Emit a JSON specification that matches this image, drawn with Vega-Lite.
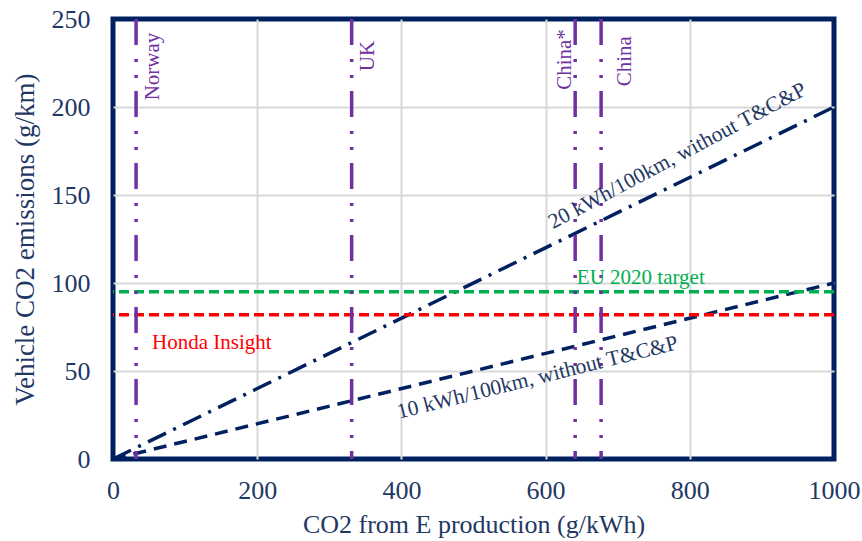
{
  "$schema": "https://vega.github.io/schema/vega-lite/v6.json",
  "width": 721,
  "height": 440,
  "autosize": "none",
  "padding": {"left": 113, "top": 19, "right": 28, "bottom": 82},
  "config": {
    "font": "Liberation Serif",
    "view": {"stroke": "#002060", "strokeWidth": 5, "strokeOpacity": 1},
    "axis": {
      "domain": false, "ticks": false, "grid": true, "gridColor": "#d9d9d9", "gridWidth": 2,
      "labelFont": "Liberation Serif", "labelFontSize": 26, "labelColor": "#1f3864",
      "titleFont": "Liberation Serif", "titleFontSize": 26, "titleFontWeight": "normal", "titleColor": "#1f3864",
      "labelFlush": false, "labelOverlap": false, "format": "d"
    },
    "axisX": {"labelPadding": 18, "titlePadding": 8},
    "axisY": {"labelPadding": 23, "titlePadding": 12, "titleFontSize": 27}
  },
  "datasets": {
    "lines": [
      {"series": "20 kWh/100km", "x": 0, "y": 0},
      {"series": "20 kWh/100km", "x": 1000, "y": 200}
    ],
    "lines10": [
      {"series": "10 kWh/100km", "x": 0, "y": 0},
      {"series": "10 kWh/100km", "x": 1000, "y": 100}
    ],
    "countries": [
      {"label": "Norway", "x": 32, "lx": 56, "ly": 223},
      {"label": "UK", "x": 331, "lx": 354, "ly": 229},
      {"label": "China*", "x": 641, "lx": 627, "ly": 227},
      {"label": "China", "x": 677, "lx": 710, "ly": 226}
    ],
    "eu": [{"label": "EU 2020 target", "y": 95, "lx": 732, "ly": 103}],
    "honda": [{"label": "Honda Insight", "y": 82, "lx": 137, "ly": 66}],
    "lineLabels": [
      {"label": "20 kWh/100km, without T&C&P", "lx": 783, "ly": 172, "angle": 332},
      {"label": "10 kWh/100km, without T&C&P", "lx": 589, "ly": 46, "angle": 346}
    ]
  },
  "layer": [
    {
      "data": {"name": "lines"},
      "mark": {"type": "line", "color": "#002060", "strokeWidth": 3.5, "strokeDash": [20, 8, 3, 8]},
      "encoding": {
        "x": {"field": "x", "type": "quantitative", "scale": {"domain": [0, 1000], "nice": false}, "axis": {"values": [0, 200, 400, 600, 800, 1000], "gridOpacity": {"condition": {"test": "datum.value === 0 || datum.value === 1000", "value": 0}, "value": 1}}, "title": "CO2 from E production (g/kWh)"},
        "y": {"field": "y", "type": "quantitative", "scale": {"domain": [0, 250], "nice": false}, "axis": {"values": [0, 50, 100, 150, 200, 250], "gridOpacity": {"condition": {"test": "datum.value === 0 || datum.value === 250", "value": 0}, "value": 1}}, "title": "Vehicle CO2 emissions (g/km)"}
      }
    },
    {
      "data": {"name": "lines10"},
      "mark": {"type": "line", "color": "#002060", "strokeWidth": 3.5, "strokeDash": [13, 8]},
      "encoding": {
        "x": {"field": "x", "type": "quantitative", "title": "CO2 from E production (g/kWh)"},
        "y": {"field": "y", "type": "quantitative", "title": "Vehicle CO2 emissions (g/km)"}
      }
    },
    {
      "data": {"name": "eu"},
      "mark": {"type": "rule", "color": "#00b050", "strokeWidth": 3.5, "strokeDash": [10, 5]},
      "encoding": {"y": {"field": "y", "type": "quantitative", "title": "Vehicle CO2 emissions (g/km)"}}
    },
    {
      "data": {"name": "honda"},
      "mark": {"type": "rule", "color": "#ff0000", "strokeWidth": 3.5, "strokeDash": [10, 5]},
      "encoding": {"y": {"field": "y", "type": "quantitative", "title": "Vehicle CO2 emissions (g/km)"}}
    },
    {
      "data": {"name": "countries"},
      "mark": {"type": "rule", "color": "#7030a0", "strokeWidth": 3.5, "strokeDash": [26, 14, 3, 13, 3, 13]},
      "encoding": {"x": {"field": "x", "type": "quantitative", "title": "CO2 from E production (g/kWh)"}}
    },
    {
      "data": {"name": "countries"},
      "mark": {"type": "text", "color": "#7030a0", "fontSize": 21, "angle": 270, "align": "center", "baseline": "middle", "font": "Liberation Serif"},
      "encoding": {
        "x": {"field": "lx", "type": "quantitative", "title": "CO2 from E production (g/kWh)"},
        "y": {"field": "ly", "type": "quantitative", "title": "Vehicle CO2 emissions (g/km)"},
        "text": {"field": "label"}
      }
    },
    {
      "data": {"name": "eu"},
      "mark": {"type": "text", "color": "#00b050", "fontSize": 21, "align": "center", "baseline": "middle", "font": "Liberation Serif"},
      "encoding": {
        "x": {"field": "lx", "type": "quantitative", "title": "CO2 from E production (g/kWh)"},
        "y": {"field": "ly", "type": "quantitative", "title": "Vehicle CO2 emissions (g/km)"},
        "text": {"field": "label"}
      }
    },
    {
      "data": {"name": "honda"},
      "mark": {"type": "text", "color": "#ff0000", "fontSize": 21, "align": "center", "baseline": "middle", "font": "Liberation Serif"},
      "encoding": {
        "x": {"field": "lx", "type": "quantitative", "title": "CO2 from E production (g/kWh)"},
        "y": {"field": "ly", "type": "quantitative", "title": "Vehicle CO2 emissions (g/km)"},
        "text": {"field": "label"}
      }
    },
    {
      "data": {"name": "lineLabels"},
      "mark": {"type": "text", "color": "#1f3864", "fontSize": 21.5, "align": "center", "baseline": "middle", "font": "Liberation Serif"},
      "encoding": {
        "x": {"field": "lx", "type": "quantitative", "title": "CO2 from E production (g/kWh)"},
        "y": {"field": "ly", "type": "quantitative", "title": "Vehicle CO2 emissions (g/km)"},
        "text": {"field": "label"},
        "angle": {"field": "angle", "type": "quantitative", "scale": null}
      }
    }
  ]
}
